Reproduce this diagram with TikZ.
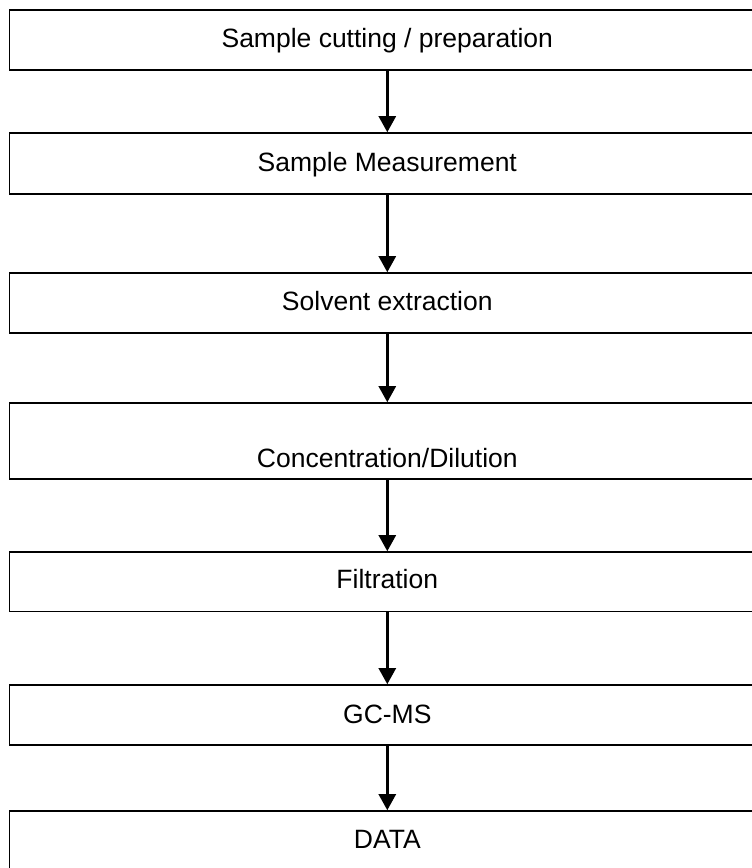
\documentclass[tikz,border=0pt]{standalone}
\usepackage{fontspec}
\setmainfont{Liberation Sans}
\usetikzlibrary{arrows.meta}
\begin{document}
\begin{tikzpicture}[x=1pt,y=-1pt,
  stepbox/.style={draw=black, line width=1.6pt, fill=white, inner xsep=0pt, inner ysep=0pt,
    minimum width=755.6pt, font=\fontsize{26.5}{30}\selectfont},
  flow/.style={line width=2.6pt, -{Triangle[width=17pt,length=16pt]}}]
\useasboundingbox (0,0) rectangle (752,868);
\node[stepbox, text height=37.3pt, text depth=23pt]   (b1) at (387.3,39.85)  {Sample cutting / preparation};
\node[stepbox, text height=38pt,   text depth=23pt]   (b2) at (387.3,163.5)  {Sample Measurement};
\node[stepbox, text height=37pt,   text depth=23pt]   (b3) at (387.3,303)    {Solvent extraction};
\node[stepbox, text height=64pt,   text depth=12pt]   (b4) at (387.3,441)    {Concentration/Dilution};
\node[stepbox, text height=36pt,   text depth=23.5pt] (b5) at (387.3,581.75) {Filtration};
\node[stepbox, text height=38pt,   text depth=22pt]   (b6) at (387.3,715)    {GC-MS};
\node[stepbox, text height=37pt,   text depth=23pt]   (b7) at (387.3,841)    {DATA};
\draw[flow] (b1.south) -- (b2.north);
\draw[flow] (b2.south) -- (b3.north);
\draw[flow] (b3.south) -- (b4.north);
\draw[flow] (b4.south) -- (b5.north);
\draw[flow] (b5.south) -- (b6.north);
\draw[flow] (b6.south) -- (b7.north);
\end{tikzpicture}
\end{document}
